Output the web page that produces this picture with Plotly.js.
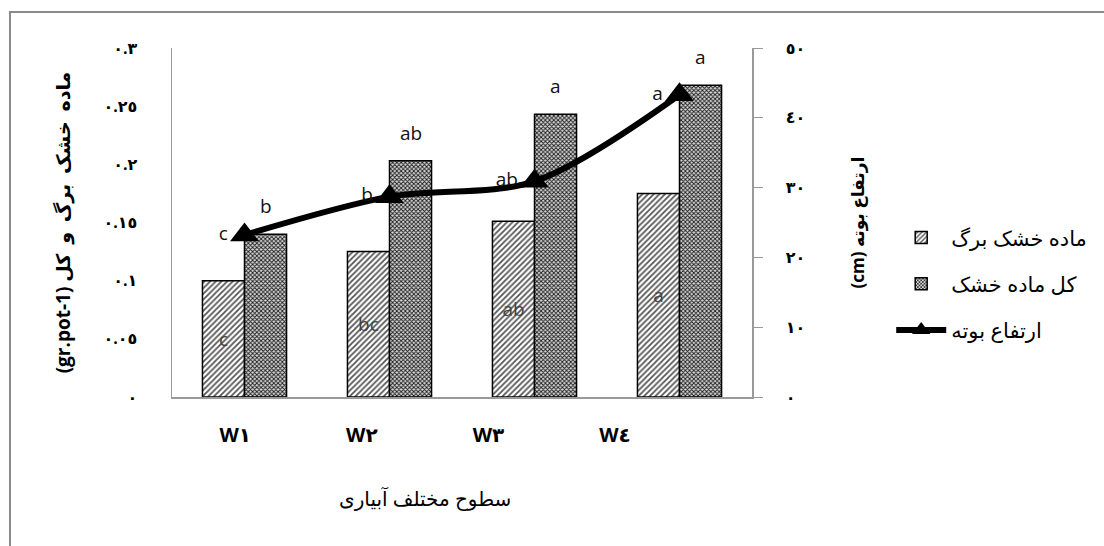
<!DOCTYPE html>
<html>
<head>
<meta charset="utf-8">
<script src="https://cdn.plot.ly/plotly-3.0.1.min.js"></script>
<style>
html,body{margin:0;padding:0;background:#fff;}
#frame{position:absolute;left:9px;top:11px;width:1200px;height:600px;border-left:2px solid #8a8a8a;border-top:2px solid #8a8a8a;pointer-events:none;z-index:5;}
#chart{position:absolute;left:0;top:0;width:1104px;height:546px;}
</style>
</head>
<body>
<div id="chart"></div>
<div id="frame"></div>
<script>
// ---- data ----
const categories = ['W١', 'W٢', 'W٣', 'W٤'];
const leafDryMatter = [0.100, 0.125, 0.151, 0.175];
const totalDryMatter = [0.140, 0.203, 0.243, 0.268];
const plantHeight = [23.2, 28.7, 30.9, 43.3];
const leafLetters = ['c', 'bc', 'ab', 'a'];
const totalLetters = ['b', 'ab', 'a', 'a'];
const heightLetters = ['c', 'b', 'ab', 'a'];
const leftTickVals = [0, 0.05, 0.1, 0.15, 0.2, 0.25, 0.3];
const leftTickText = ['٠', '٠.٠٥', '٠.١', '٠.١٥', '٠.٢', '٠.٢٥', '٠.٣'];
const rightTickVals = [0, 10, 20, 30, 40, 50];
const rightTickText = ['٠', '١٠', '٢٠', '٣٠', '٤٠', '٥٠'];
const seriesNames = ['ماده خشک برگ', 'کل ماده خشک', 'ارتفاع بوته'];

const FONT = 'Open Sans, DejaVu Sans, sans-serif';

const traces = [
  {
    type: 'bar', x: categories, y: leafDryMatter, name: seriesNames[0],
    legendgroup: 'g1',
    marker: {color: '#ffffff', line: {color: '#000', width: 1.5},
      pattern: {shape: '/', fgcolor: '#555', bgcolor: '#fff', size: 4, solidity: 0.45}},
    text: leafLetters, textposition: 'inside', insidetextanchor: 'middle', textangle: 0,
    textfont: {family: FONT, size: 19, color: '#444'},
    hoverinfo: 'skip'
  },
  {
    type: 'bar', x: categories, y: totalDryMatter, name: seriesNames[1],
    legendgroup: 'g2',
    marker: {color: '#bbb', line: {color: '#000', width: 1.5},
      pattern: {shape: 'x', fgcolor: '#1a1a1a', bgcolor: '#d8d8d8', size: 3, solidity: 0.5}},
    hoverinfo: 'skip'
  },
  {
    type: 'scatter', mode: 'lines+markers+text', x: categories, y: plantHeight, yaxis: 'y2',
    name: seriesNames[2], legendgroup: 'g3',
    line: {color: '#000', width: 6, shape: 'spline', smoothing: 0.9},
    marker: {symbol: 'triangle-up', size: 25, color: '#000'},
    text: heightLetters, textposition: 'middle left',
    textfont: {family: FONT, size: 19, color: '#111'},
    hoverinfo: 'skip'
  }
];

const annotations = categories.map((c, i) => ({
  x: c, y: totalDryMatter[i], xref: 'x', yref: 'y',
  text: totalLetters[i], showarrow: false, xshift: 21, yshift: 28,
  font: {family: FONT, size: 19, color: '#111'}
}));

const layout = {
  width: 1104, height: 546,
  margin: {l: 172, r: 352, t: 48, b: 149},
  paper_bgcolor: '#fff', plot_bgcolor: 'rgba(0,0,0,0)',
  showlegend: true,
  barmode: 'group', bargap: 0.42, bargroupgap: 0,
  font: {family: FONT, color: '#000'},
  xaxis: {
    type: 'category', showline: true, linecolor: '#999', linewidth: 1.5,
    ticks: '', showgrid: false, zeroline: false, showticklabels: false
  },
  xaxis2: {
    domain: [0, 0.873], anchor: 'y', type: 'linear', range: [-0.5, 3.5],
    tickvals: [0, 1, 2, 3], ticktext: categories,
    showline: false, ticks: '', showgrid: false, zeroline: false,
    tickfont: {family: FONT, size: 20, color: '#000', weight: 'bold'},
    ticklabelstandoff: 24,
    title: {text: 'سطوح مختلف آبیاری', font: {family: FONT, size: 20, color: '#000'}, standoff: 44}
  },
  yaxis: {
    range: [0, 0.3], tickvals: leftTickVals, ticktext: leftTickText,
    showline: true, linecolor: '#999', linewidth: 1.5, ticks: '', showgrid: false, zeroline: false,
    tickfont: {family: FONT, size: 16, color: '#000', weight: 'bold'},
    ticklabelstandoff: 30,
    title: {text: '(gr.pot-1) ماده\u00A0 خشک\u00A0 برگ\u00A0 و\u00A0 کل', font: {family: FONT, size: 19, color: '#000', weight: 'bold'}, standoff: 28}
  },
  yaxis2: {
    overlaying: 'y', side: 'right', range: [0, 50],
    tickvals: rightTickVals, ticktext: rightTickText,
    showline: true, linecolor: '#999', linewidth: 1.5, ticks: 'outside', ticklen: 9, tickcolor: '#999',
    showgrid: false, zeroline: false,
    tickfont: {family: FONT, size: 16, color: '#000', weight: 'bold'},
    ticklabelstandoff: 20,
    title: {text: '(cm) ارتفاع بوته', font: {family: FONT, size: 17, color: '#000', weight: 'bold'}, standoff: 48}
  },
  legend: {
    x: 1.24, y: 0.515, xanchor: 'left', yanchor: 'top',
    traceorder: 'grouped', tracegroupgap: 16,
    font: {family: FONT, size: 21, color: '#000'},
    itemwidth: 50, bgcolor: 'rgba(0,0,0,0)'
  },
  annotations: annotations
};

// an invisible helper trace so the label axis (xaxis2) is drawn
traces.push({type: 'scatter', x: [0, 3], y: [null, null], xaxis: 'x2', yaxis: 'y', showlegend: false, hoverinfo: 'skip', mode: 'markers'});

Plotly.newPlot('chart', traces, layout, {displayModeBar: false, staticPlot: true});
</script>
</body>
</html>
